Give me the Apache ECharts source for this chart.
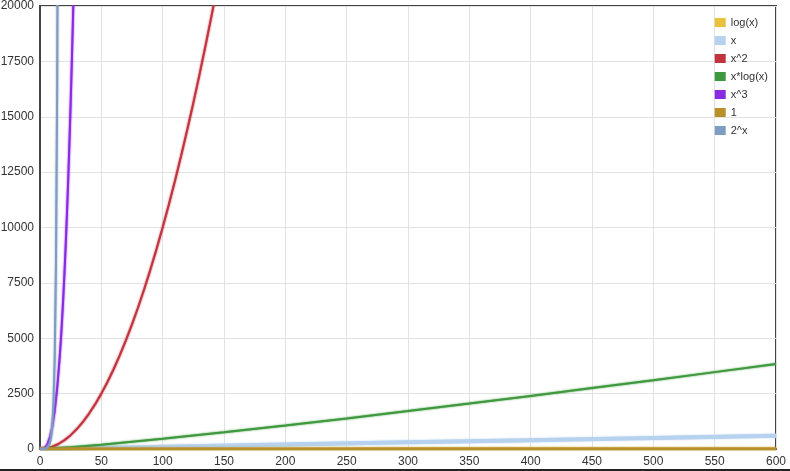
<!DOCTYPE html>
<html>
<head>
<meta charset="utf-8">
<script src="https://cdn.jsdelivr.net/npm/echarts@6/dist/echarts.min.js"></script>
<style>
  html, body { margin: 0; padding: 0; background: #fff; }
  #chart { width: 790px; height: 469px; border-bottom: 2px solid #222; }
</style>
</head>
<body>
<div id="chart"></div>
<script>
// values, as [x, y] samples
var logX = [[1, 0], [2, 0.7], [5, 1.6], [10, 2.3], [50, 3.9], [100, 4.6], [200, 5.3], [300, 5.7], [400, 6.0], [500, 6.2], [600, 6.4]]
var linX = [[0, 0], [100, 100], [200, 200], [300, 300], [400, 400], [500, 500], [600, 600]]
var sqX = [[0, 0], [5, 25], [10, 100], [15, 225], [20, 400], [25, 625], [30, 900], [35, 1225], [40, 1600], [45, 2025], [50, 2500], [55, 3025], [60, 3600], [65, 4225], [70, 4900], [75, 5625], [80, 6400], [85, 7225], [90, 8100], [95, 9025], [100, 10000], [105, 11025], [110, 12100], [115, 13225], [120, 14400], [125, 15625], [130, 16900], [135, 18225], [140, 19600], [145, 21025]]
var xLogX = [[1, 0], [5, 8], [10, 23], [25, 80], [50, 196], [100, 461], [150, 752], [200, 1060], [250, 1380], [300, 1711], [350, 2050], [400, 2397], [450, 2749], [500, 3107], [550, 3471], [600, 3838]]
var cubeX = [[0, 0], [2, 8], [4, 64], [6, 216], [8, 512], [10, 1000], [12, 1728], [14, 2744], [16, 4096], [17, 4913], [18, 5832], [19, 6859], [20, 8000], [21, 9261], [22, 10648], [23, 12167], [24, 13824], [25, 15625], [26, 17576], [27, 19683], [28, 21952]]
var one = [[0, 1], [600, 1]]
var powX = [[0, 1], [1, 2], [2, 4], [3, 8], [4, 16], [5, 32], [6, 64], [7, 128], [8, 256], [9, 512], [10, 1024], [11, 2048], [12, 4096], [13, 8192], [14, 16384], [15, 32768]]

var names = ['log(x)', 'x', 'x^2', 'x*log(x)', 'x^3', '1', '2^x']
var colors = ['#e8c23c', '#b6d2ef', '#c0343f', '#3e983e', '#8a2be2', '#b8902a', '#7f9cc2']
var widths = [2, 4, 2, 2, 2, 3, 2]
var datas = [logX, linX, sqX, xLogX, cubeX, one, powX]

var chart = echarts.init(document.getElementById('chart'))
chart.setOption({
  animation: false,
  color: colors,
  grid: {
    left: 40,
    right: 14,
    top: 6,
    bottom: 20,
    outerBoundsMode: 'none',
    containLabel: false,
    show: true,
    borderColor: '#444',
    borderWidth: 2
  },
  legend: {
    orient: 'vertical',
    right: 17,
    top: 12,
    itemWidth: 11,
    itemHeight: 9,
    itemGap: 7,
    icon: 'rect',
    textStyle: { color: '#333', fontSize: 11, fontFamily: 'Liberation Sans' },
    data: names
  },
  xAxis: {
    type: 'value',
    min: 0,
    max: 600,
    interval: 50,
    axisLine: { lineStyle: { color: '#444', width: 2 } },
    axisTick: { show: false },
    axisLabel: { color: '#333', fontSize: 12, margin: 7 },
    splitLine: { lineStyle: { color: '#e2e2e2' } }
  },
  yAxis: {
    type: 'value',
    min: 0,
    max: 20000,
    interval: 2500,
    axisLine: { show: true, lineStyle: { color: '#444', width: 2 } },
    axisTick: { show: false },
    axisLabel: { color: '#333', fontSize: 12, margin: 6, formatter: function (v) { return String(v) } },
    splitLine: { lineStyle: { color: '#e2e2e2' } }
  },
  series: names.map(function (n, i) {
    return {
      name: n,
      type: 'line',
      data: datas[i],
      showSymbol: false,
      smooth: false,
      clip: true,
      lineStyle: {
        width: widths[i],
        color: colors[i],
        shadowColor: colors[i],
        shadowBlur: 2
      }
    }
  })
})
</script>
</body>
</html>
